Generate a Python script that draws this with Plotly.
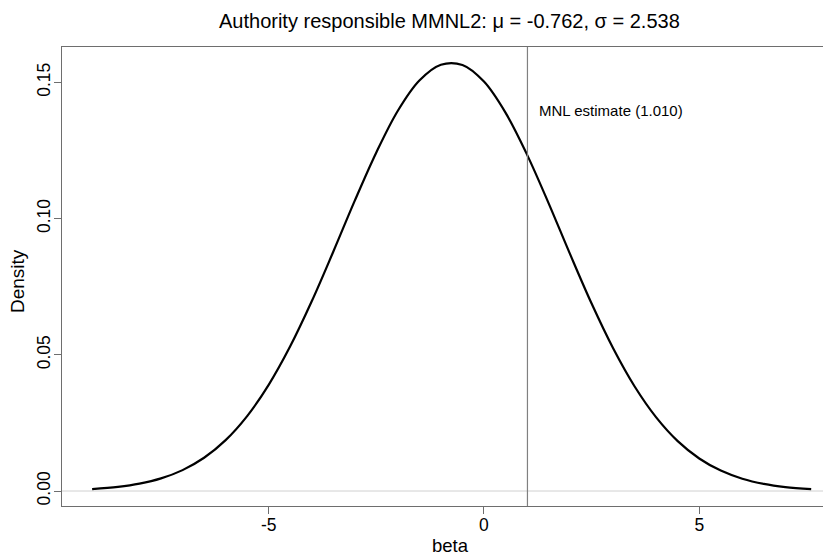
import plotly.graph_objects as go

# density curve points
beta_x = [-9.1, -8.5, -8.0, -7.5, -7.0, -6.5, -6.0, -5.5, -5.0, -4.5, -4.0, -3.5,
          -3.0, -2.5, -2.0, -1.5, -1.0, -0.5, 0.0, 0.5, 1.0, 1.5, 2.0,
          2.5, 3.0, 3.5, 4.0, 4.5, 5.0, 5.5, 6.0, 6.5, 7.0, 7.6]
density_y = [0.00071, 0.00151, 0.00269, 0.00463, 0.00767, 0.0122, 0.01868, 0.02751,
             0.03899, 0.05313, 0.06965, 0.08784, 0.1066, 0.1243, 0.1396, 0.1507,
             0.1565, 0.1564, 0.1503, 0.1389, 0.1235, 0.1057, 0.08695,
             0.06882, 0.0524, 0.03837, 0.02704, 0.01833, 0.01195, 0.00749, 0.00452,
             0.00262, 0.00146, 0.00069]

mnl_estimate = 1.010
mnl_label = "MNL estimate (1.010)"
title_text = "Authority responsible MMNL2: \u03bc = -0.762, \u03c3 = 2.538"
x_ticks = [-5, 0, 5]
x_tick_labels = ["-5", "0", "5"]
y_ticks = [0.00, 0.05, 0.10, 0.15]
y_tick_labels = ["0.00", "0.05", "0.10", "0.15"]

FONT = "Liberation Sans, Arial, sans-serif"
AXIS_COL = "#6e6e6e"

# page has an 8px body margin; figure is sized/offset to compensate
OFF = 8
W, H = 831 - OFF, 556 - OFF
L, T = 62.3 - OFF, 47.3 - OFF
B = H - (506 - OFF)
PW, PH = W - L, H - T - B

def px_x(page_x):
    return (page_x - OFF - L) / PW

def px_y(page_y):
    return (H - B - (page_y - OFF)) / PH

fig = go.Figure()
fig.add_trace(go.Scatter(x=beta_x, y=density_y, mode="lines",
                         line=dict(color="black", width=2.2, shape="spline", smoothing=1.0),
                         hoverinfo="skip", showlegend=False))

fig.add_shape(type="line", xref="paper", x0=0, x1=1, yref="y", y0=0, y1=0,
              line=dict(color="#d0d0d0", width=1), layer="below")
fig.add_shape(type="line", xref="x", x0=mnl_estimate, x1=mnl_estimate, yref="paper", y0=0, y1=1,
              line=dict(color="#808080", width=1.2))

fig.add_annotation(x=mnl_estimate + 0.22, y=0.1396, xref="x", yref="y", text=mnl_label,
                   showarrow=False, xanchor="left", yanchor="middle",
                   font=dict(family=FONT, size=15, color="black"))

fig.add_annotation(x=px_x(451), y=px_y(545), xref="paper", yref="paper",
                   text="beta", showarrow=False, xanchor="center", yanchor="middle",
                   font=dict(family=FONT, size=18.5, color="black"))
fig.add_annotation(x=px_x(18.5), y=px_y(281), xref="paper", yref="paper",
                   text="Density", showarrow=False, xanchor="center", yanchor="middle",
                   textangle=-90, font=dict(family=FONT, size=19, color="black"))
fig.add_annotation(x=px_x(450), y=px_y(21), xref="paper", yref="paper",
                   text=title_text, showarrow=False, xanchor="center", yanchor="middle",
                   font=dict(family=FONT, size=20, color="black"))

fig.update_layout(
    width=W, height=H,
    margin=dict(l=L, r=0, t=T, b=B, pad=0, autoexpand=False),
    paper_bgcolor="white", plot_bgcolor="white",
    xaxis=dict(range=[-9.80, 8.06], tickvals=x_ticks, ticktext=x_tick_labels,
               showgrid=False, zeroline=False, showline=True, linecolor=AXIS_COL,
               linewidth=1.2, mirror=True, ticks="outside", ticklen=7, tickcolor=AXIS_COL,
               automargin=False, ticklabelstandoff=-4,
               tickfont=dict(family=FONT, size=17.5, color="black")),
    yaxis=dict(range=[-0.0055, 0.163], tickvals=y_ticks, ticktext=y_tick_labels,
               showgrid=False, zeroline=False, showline=True, linecolor=AXIS_COL,
               linewidth=1.2, ticks="outside", ticklen=7, tickcolor=AXIS_COL,
               automargin=False, ticklabelstandoff=-3,
               tickangle=-90, tickfont=dict(family=FONT, size=17.5, color="black")),
)

fig.write_html("out.html")
